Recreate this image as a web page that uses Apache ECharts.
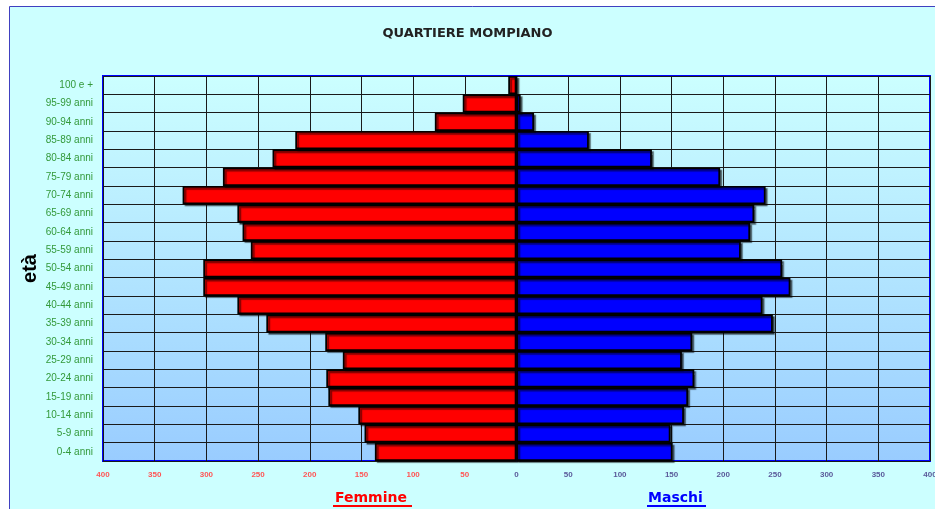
<!DOCTYPE html>
<html>
<head>
<meta charset="utf-8">
<script src="https://cdn.jsdelivr.net/npm/echarts@6/dist/echarts.min.js"></script>
<style>
  html, body { margin: 0; padding: 0; background: #fff; }
  #chart { width: 935px; height: 509px; }
</style>
</head>
<body>
<div id="chart"></div>
<script>
// classi di età, dal basso verso l'alto
var categorie = ['0-4 anni', '5-9 anni', '10-14 anni', '15-19 anni', '20-24 anni', '25-29 anni',
    '30-34 anni', '35-39 anni', '40-44 anni', '45-49 anni', '50-54 anni', '55-59 anni',
    '60-64 anni', '65-69 anni', '70-74 anni', '75-79 anni', '80-84 anni', '85-89 anni',
    '90-94 anni', '95-99 anni', '100 e +'];
var femmine = [137, 147, 153, 182, 184, 168, 185, 242, 270, 303, 303, 257, 265, 270, 323, 284, 236, 214, 79, 52, 8];
var maschi = [151, 149, 162, 166, 172, 160, 170, 248, 238, 265, 257, 217, 226, 230, 241, 197, 131, 70, 17, 4, 0];

var chart = echarts.init(document.getElementById('chart'));

var barStyle = function (col) {
    return {
        color: col,
        borderColor: '#000',
        borderWidth: 1.8,
        shadowColor: 'rgba(0,0,0,0.5)',
        shadowOffsetX: 2,
        shadowOffsetY: 2,
        shadowBlur: 1
    };
};

var option = {
    backgroundColor: '#ffffff',
    animation: false,
    textStyle: { fontFamily: 'Liberation Sans, Arial, sans-serif' },
    graphic: [
        {
            type: 'rect', z: -10, silent: true,
            shape: { x: 9.5, y: 6.5, width: 940, height: 520 },
            style: { fill: '#ccffff', stroke: '#4040c0', lineWidth: 1 }
        },
        {
            type: 'text', left: 335, top: 491,
            style: { text: 'Femmine', fill: '#ff0000', font: 'bold 14px DejaVu Sans' }
        },
        {
            type: 'rect', silent: true,
            shape: { x: 333, y: 505, width: 79, height: 2 },
            style: { fill: '#ff0000' }
        },
        {
            type: 'text', left: 648, top: 491,
            style: { text: 'Maschi', fill: '#0000ff', font: 'bold 14px DejaVu Sans' }
        },
        {
            type: 'rect', silent: true,
            shape: { x: 647, y: 505, width: 59, height: 2 },
            style: { fill: '#0000ff' }
        }
    ],
    title: {
        text: 'QUARTIERE MOMPIANO',
        left: 'center',
        top: 22,
        textStyle: { fontSize: 13, fontWeight: 'bold', color: '#222', fontFamily: 'DejaVu Sans' }
    },
    grid: {
        left: 103, right: 5, top: 76, bottom: 48,
        outerBoundsMode: 'none',
        containLabel: false,
        show: true,
        borderColor: '#0000ff',
        borderWidth: 2,
        backgroundColor: new echarts.graphic.LinearGradient(0, 0, 0, 1, [
            { offset: 0, color: '#ccffff' },
            { offset: 1, color: '#99ccff' }
        ])
    },
    xAxis: {
        type: 'value',
        min: -400, max: 400, interval: 50,
        axisLine: { show: false },
        axisTick: { show: false },
        splitLine: { show: true, lineStyle: { color: '#1a1a1a', width: 1 } },
        axisLabel: {
            fontSize: 8,
            fontWeight: 'bold',
            margin: 10,
            hideOverlap: false,
            formatter: function (v) { return Math.abs(v); },
            color: function (v) { return Number(v) < 0 ? '#ff5555' : '#5a5a9a'; }
        }
    },
    yAxis: {
        type: 'category',
        data: categorie,
        name: 'età',
        nameLocation: 'middle',
        nameRotate: 90,
        nameGap: 63,
        nameMoveOverlap: false,
        nameTextStyle: { fontSize: 20, fontWeight: 'bold', color: '#000' },
        axisLine: { show: false },
        axisTick: { show: false },
        splitLine: { show: true, lineStyle: { color: '#1a1a1a', width: 1 } },
        axisLabel: { fontSize: 10, color: '#33993a', margin: 10 }
    },
    series: [
        {
            name: 'Femmine',
            type: 'bar',
            barGap: '-100%',
            barCategoryGap: 0,
            data: femmine.map(function (v) { return -v; }),
            itemStyle: barStyle('#ff0000')
        },
        {
            name: 'Maschi',
            type: 'bar',
            barGap: '-100%',
            barCategoryGap: 0,
            data: maschi,
            itemStyle: barStyle('#0000ff')
        }
    ]
};

chart.setOption(option);
</script>
</body>
</html>
